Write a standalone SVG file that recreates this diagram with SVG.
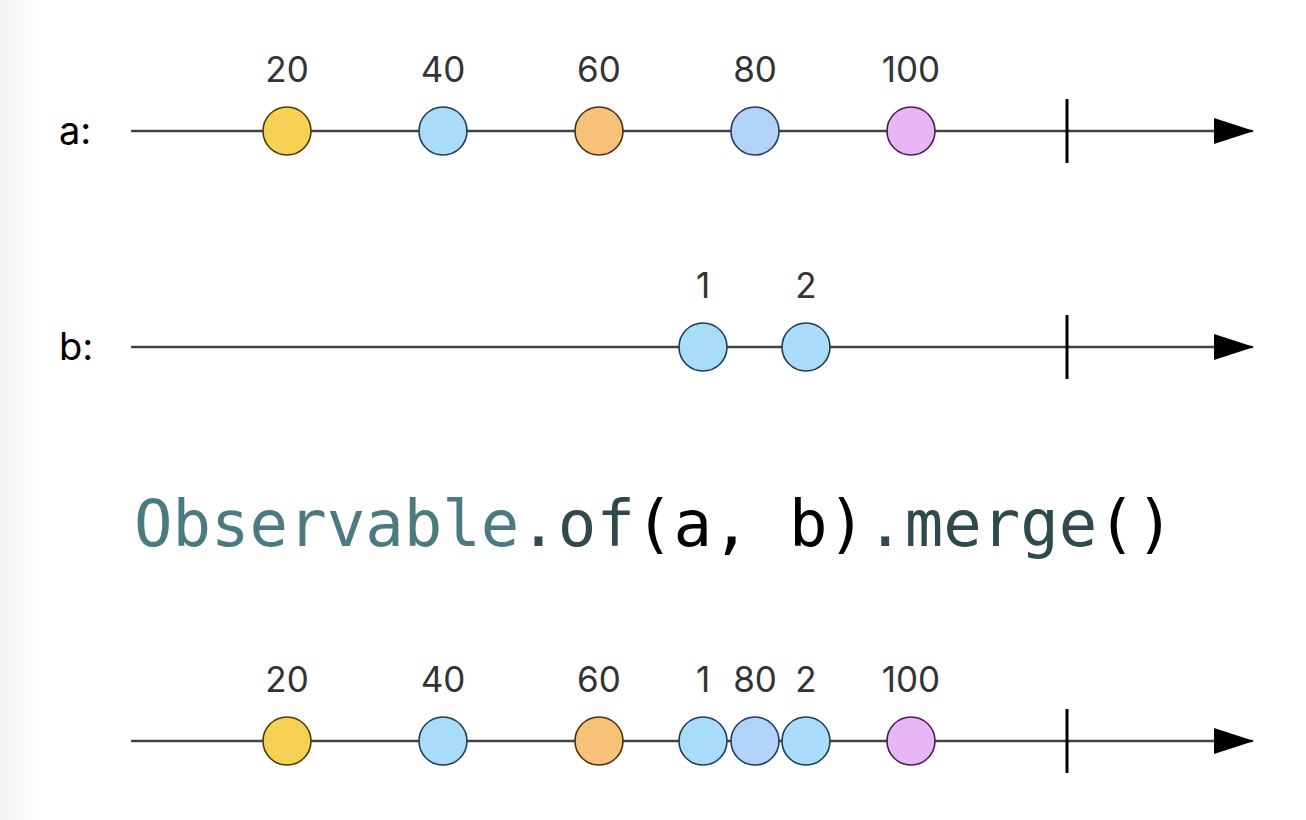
<svg xmlns="http://www.w3.org/2000/svg" width="1306" height="820" viewBox="0 0 1306 820">
<defs>
<linearGradient id="edge" x1="0" y1="0" x2="1" y2="0">
<stop offset="0" stop-color="#f3f3f3"/>
<stop offset="1" stop-color="#ffffff"/>
</linearGradient>
<marker id="arr" markerWidth="40" markerHeight="26" refX="39" refY="13" orient="auto" markerUnits="userSpaceOnUse">
<path d="M0,0 L40,13 L0,26 Z" fill="#000"/>
</marker>
<style>
.tl{stroke:#444;stroke-width:2.5;fill:none}
.tick{stroke:#000;stroke-width:3}
.lbl{font-family:Inter,"Liberation Sans",Arial,sans-serif;font-size:35px;fill:#333;text-anchor:middle}
.nm{font-family:Inter,"Liberation Sans",Arial,sans-serif;font-size:38px;fill:#000}
.c{stroke-width:1.6}
.y{fill:#f7d154;stroke:#4a3c00}
.b{fill:#a8dcf8;stroke:#1d3d52}
.o{fill:#f6c27a;stroke:#4a3010}
.lb{fill:#b4d3f8;stroke:#1d3a66}
.p{fill:#e8b5f5;stroke:#4a1a55}
.code{font-family:"DejaVu Sans Mono",monospace;font-size:64px}
</style>
</defs>
<rect width="1306" height="820" fill="#fff"/>
<rect width="40" height="820" fill="url(#edge)"/>
<g id="connectors">
<line class="tl" x1="131" y1="131" x2="1253" y2="131" marker-end="url(#arr)"/>
<line class="tick" x1="1067" y1="99" x2="1067" y2="163"/>
<line class="tl" x1="131" y1="347" x2="1253" y2="347" marker-end="url(#arr)"/>
<line class="tick" x1="1067" y1="315" x2="1067" y2="379"/>
<line class="tl" x1="131" y1="741" x2="1253" y2="741" marker-end="url(#arr)"/>
<line class="tick" x1="1067" y1="709" x2="1067" y2="773"/>
</g>
<g id="label-a"><text class="nm" x="59" y="144">a:</text></g>
<g id="label-b"><text class="nm" x="59" y="360">b:</text></g>
<g id="a-20"><text class="lbl" x="287" y="82">20</text><circle class="c y" cx="287" cy="131" r="24"/></g>
<g id="a-40"><text class="lbl" x="443" y="82">40</text><circle class="c b" cx="443" cy="131" r="24"/></g>
<g id="a-60"><text class="lbl" x="599" y="82">60</text><circle class="c o" cx="599" cy="131" r="24"/></g>
<g id="a-80"><text class="lbl" x="755" y="82">80</text><circle class="c lb" cx="755" cy="131" r="24"/></g>
<g id="a-100"><text class="lbl" x="911" y="82">100</text><circle class="c p" cx="911" cy="131" r="24"/></g>
<g id="b-1"><text class="lbl" x="703" y="298">1</text><circle class="c b" cx="703" cy="347" r="24"/></g>
<g id="b-2"><text class="lbl" x="806" y="298">2</text><circle class="c b" cx="806" cy="347" r="24"/></g>
<g id="code"><text class="code" x="134" y="546"><tspan fill="#4b7a80">Observable</tspan><tspan fill="#2e4a4e">.of</tspan><tspan fill="#000">(a, b)</tspan><tspan fill="#2e4a4e">.merge</tspan><tspan fill="#000">()</tspan></text></g>
<g id="m-20"><text class="lbl" x="287" y="692">20</text><circle class="c y" cx="287" cy="741" r="24"/></g>
<g id="m-40"><text class="lbl" x="443" y="692">40</text><circle class="c b" cx="443" cy="741" r="24"/></g>
<g id="m-60"><text class="lbl" x="599" y="692">60</text><circle class="c o" cx="599" cy="741" r="24"/></g>
<g id="m-1"><text class="lbl" x="703" y="692">1</text><circle class="c b" cx="703" cy="741" r="24"/></g>
<g id="m-80"><text class="lbl" x="755" y="692">80</text><circle class="c lb" cx="755" cy="741" r="24"/></g>
<g id="m-2"><text class="lbl" x="806" y="692">2</text><circle class="c b" cx="806" cy="741" r="24"/></g>
<g id="m-100"><text class="lbl" x="911" y="692">100</text><circle class="c p" cx="911" cy="741" r="24"/></g>
</svg>
